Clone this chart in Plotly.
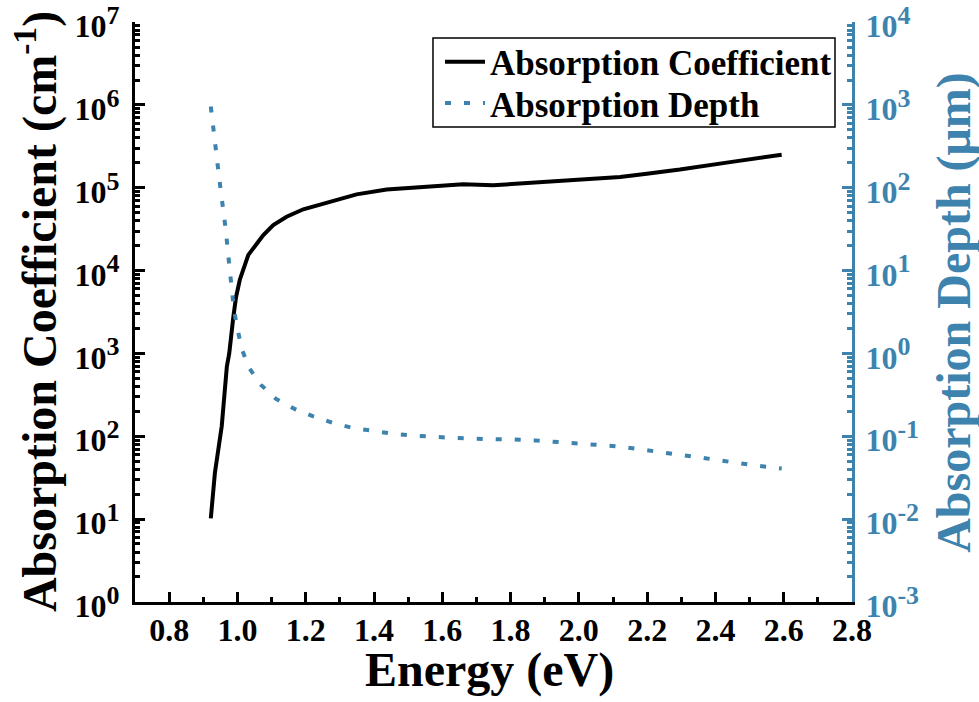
import plotly.graph_objects as go

# ---- data ----
energy_alpha = [0.922, 0.934, 0.954, 0.969, 0.976, 0.980, 0.988, 0.996, 1.007, 1.032,
                1.076, 1.105, 1.144, 1.193, 1.242, 1.271, 1.349, 1.437, 1.535, 1.661,
                1.749, 1.877, 2.003, 2.121, 2.199, 2.296, 2.443, 2.594]
alpha = [10.2, 36, 132, 692, 1000, 1510, 2750, 4790, 7760, 15500,
         26900, 35500, 44700, 55000, 63100, 67600, 83200, 95500, 102000, 110000,
         107000, 115000, 123000, 135000, 148000, 166000, 204000, 251000]

energy_depth = [0.922, 0.929, 0.937, 0.944, 0.951, 0.959, 0.966, 0.972, 0.978, 0.983,
                0.990, 1.001, 1.013, 1.035, 1.069, 1.113, 1.167, 1.222, 1.279, 1.337,
                1.395, 1.455, 1.513, 1.572, 1.632, 1.691, 1.750, 1.810, 1.870, 1.930,
                1.989, 2.047, 2.106, 2.167, 2.226, 2.285, 2.344, 2.402, 2.460, 2.519,
                2.580, 2.594]
depth = [955, 501, 288, 162, 93.3, 53.7, 30.9, 17.0, 10.2, 5.89,
         3.31, 1.91, 1.12, 0.661, 0.417, 0.282, 0.214, 0.174, 0.145, 0.126,
         0.115, 0.107, 0.102, 0.0977, 0.0955, 0.0933, 0.0933, 0.0912, 0.0891, 0.0861,
         0.0832, 0.0785, 0.0759, 0.0708, 0.0646, 0.0603, 0.0562, 0.0525, 0.0479, 0.0442,
         0.0417, 0.0407]

series_names = ["Absorption Coefficient", "Absorption Depth"]
left_exponents = [0, 1, 2, 3, 4, 5, 6, 7]
right_exponents = [-3, -2, -1, 0, 1, 2, 3, 4]

BLUE = "#3D83AE"
FONT = "Liberation Serif"
EPS = 0.0015

def sup_label(e):
    return f'10<sup><span style="font-size:26px">{e}</span></sup>'

def minor_vals(e0, e1):
    return [m * 10.0 ** e for e in range(e0, e1) for m in range(2, 10)]

fig = go.Figure()
fig.add_trace(go.Scatter(x=energy_alpha, y=alpha, mode="lines",
                         name=series_names[0], legend="legend",
                         line=dict(color="black", width=4)))
fig.add_trace(go.Scatter(x=energy_depth, y=depth, mode="lines",
                         name=series_names[1], yaxis="y2", legend="legend2",
                         line=dict(color=BLUE, width=4, dash="6px,13px")))

tickfont = dict(family=FONT, size=32, color="black", weight="bold")
legfont = dict(family=FONT, size=35, color="black", weight="bold")

fig.update_layout(
    width=979, height=702,
    margin=dict(l=135, r=127, t=22, b=100, autoexpand=False),
    paper_bgcolor="white", plot_bgcolor="white",
    showlegend=True,
    legend=dict(x=0.4254, y=0.931, xanchor="left", yanchor="middle",
                borderwidth=0, bgcolor="rgba(0,0,0,0)", font=legfont,
                itemwidth=40),
    legend2=dict(x=0.4254, y=0.860, xanchor="left", yanchor="middle",
                 borderwidth=0, bgcolor="rgba(0,0,0,0)", font=legfont,
                 itemwidth=40),
    shapes=[dict(type="rect", xref="paper", yref="paper",
                 x0=0.4156, x1=0.9763, y0=0.819, y1=0.9724,
                 line=dict(color="black", width=1.5), layer="below")],
    xaxis=dict(range=[0.7, 2.8], tick0=0.8, dtick=0.2, tickformat=".1f",
               ticks="inside", ticklen=10, tickwidth=3, tickcolor="black",
               showline=True, linewidth=3, linecolor="black",
               showgrid=False, zeroline=False, tickfont=tickfont,
               ticklabelstandoff=-2, automargin=False,
               minor=dict(dtick=0.1, tick0=0.7, ticks="inside", ticklen=5,
                          tickwidth=3, tickcolor="black", showgrid=False)),
    xaxis2=dict(overlaying="x", matches="x", side="top", anchor="y",
                range=[0.7, 2.8], tick0=0.8, dtick=0.2,
                ticks="inside", ticklen=10, tickwidth=3, tickcolor="black",
                showticklabels=False, showline=True, linewidth=3,
                linecolor="black", showgrid=False, zeroline=False,
                automargin=False),
    yaxis=dict(type="log", range=[-EPS, 7 + EPS],
               tickmode="array", tickvals=[10.0 ** e for e in left_exponents],
               ticktext=[sup_label(e) for e in left_exponents],
               ticks="inside", ticklen=10, tickwidth=3, tickcolor="black",
               showline=True, linewidth=3, linecolor="black",
               showgrid=False, zeroline=False, tickfont=tickfont,
               ticklabelstandoff=6, ticklabelshift=4,
               ticklabeloverflow="allow", automargin=False,
               minor=dict(tickmode="array", tickvals=minor_vals(0, 7),
                          ticks="inside", ticklen=5, tickwidth=3,
                          tickcolor="black", showgrid=False)),
    yaxis2=dict(type="log", range=[-3 - EPS, 4 + EPS], overlaying="y", side="right",
                anchor="x",
                tickmode="array", tickvals=[10.0 ** e for e in right_exponents],
                ticktext=[sup_label(e) for e in right_exponents],
                ticks="inside", ticklen=10, tickwidth=3, tickcolor=BLUE,
                showline=True, linewidth=3, linecolor=BLUE,
                showgrid=False, zeroline=False,
                tickfont=dict(family=FONT, size=32, color=BLUE, weight="bold"),
                ticklabelstandoff=4, ticklabelshift=4,
                ticklabeloverflow="allow", automargin=False,
                minor=dict(tickmode="array", tickvals=minor_vals(-3, 4),
                           ticks="inside", ticklen=5, tickwidth=3,
                           tickcolor=BLUE, showgrid=False)),
    annotations=[
        dict(text="Absorption Coefficient (cm<sup>-1</sup>)", textangle=-90,
             xref="paper", yref="paper", x=-0.138, y=0.5,
             xanchor="center", yanchor="middle", showarrow=False,
             font=dict(family=FONT, size=48, color="black", weight="bold")),
        dict(text="Absorption Depth (μm)", textangle=-90,
             xref="paper", yref="paper", x=1.142, y=0.5,
             xanchor="center", yanchor="middle", showarrow=False,
             font=dict(family=FONT, size=48, color=BLUE, weight="bold")),
        dict(text="Energy (eV)",
             xref="paper", yref="paper", x=0.495, y=-0.118,
             xanchor="center", yanchor="middle", showarrow=False,
             font=dict(family=FONT, size=48, color="black", weight="bold")),
    ],
)

fig.write_html("out.html")
